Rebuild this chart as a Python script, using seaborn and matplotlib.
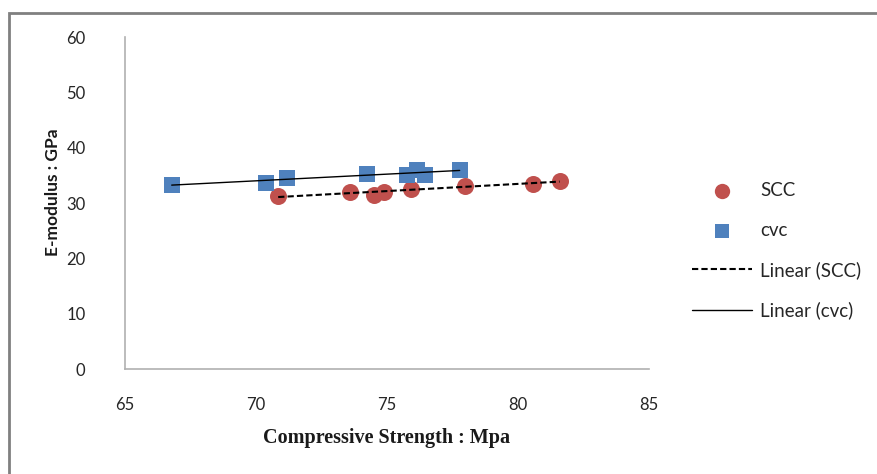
import seaborn as sns
import pandas as pd
import matplotlib.pyplot as plt
from matplotlib.patches import Rectangle

# values
scc_strength = [70.86, 73.59, 74.50, 74.90, 75.91, 78.00, 80.57, 81.59]
scc_modulus = [31.3, 32.0, 31.5, 31.9, 32.5, 33.1, 33.5, 34.0]
cvc_strength = [66.80, 70.38, 71.20, 74.25, 75.77, 76.17, 76.47, 77.78]
cvc_modulus = [33.3, 33.7, 34.6, 35.2, 35.1, 36.0, 35.1, 36.0]

x_ticks = [65, 70, 75, 80, 85]
y_ticks = [0, 10, 20, 30, 40, 50, 60]


def build_frame():
    scc = pd.DataFrame({"strength": scc_strength, "modulus": scc_modulus, "mix": "SCC"})
    cvc = pd.DataFrame({"strength": cvc_strength, "modulus": cvc_modulus, "mix": "cvc"})
    return scc, cvc


def set_default_style():
    sns.set_style("white")
    plt.rcParams["font.family"] = ["Lato", "DejaVu Sans"]


def create_chart(save_loc):
    set_default_style()
    scc, cvc = build_frame()

    fig = plt.figure(figsize=(8.77, 4.74), dpi=100)
    W, H = 877, 474
    # outer grey frame like the spreadsheet chart area (only top and left visible)
    fig.patches.append(Rectangle((9 / W, -0.05), 1.05, 1.05 - 12.5 / H, transform=fig.transFigure,
                                 fill=False, edgecolor="#808080", linewidth=2))

    ax = fig.add_axes([124.5 / W, 1 - 369 / H, (649 - 124.5) / W, (369 - 37) / H])

    sns.scatterplot(data=scc, x="strength", y="modulus", ax=ax, marker="o", s=150,
                    color="#C0504D", edgecolor="#C0504D", linewidth=0, label="SCC", zorder=3)
    sns.scatterplot(data=cvc, x="strength", y="modulus", ax=ax, marker="s", s=120,
                    color="#4F81BD", edgecolor="#4F81BD", linewidth=0, label="cvc", zorder=3)
    sns.regplot(data=scc, x="strength", y="modulus", ax=ax, scatter=False, ci=None,
                line_kws={"color": "black", "linestyle": (0, (3, 1.5)), "linewidth": 1.5, "zorder": 4},
                label="Linear (SCC)")
    sns.regplot(data=cvc, x="strength", y="modulus", ax=ax, scatter=False, ci=None,
                line_kws={"color": "black", "linestyle": "-", "linewidth": 1.0, "zorder": 4},
                label="Linear (cvc)")

    ax.set_xlim(65, 85)
    ax.set_ylim(0, 60)
    ax.set_xticks(x_ticks)
    ax.set_yticks(y_ticks)
    ax.tick_params(axis="y", length=0, pad=28, labelsize=12, labelcolor="#262626")
    ax.tick_params(axis="x", length=0, pad=20, labelsize=12, labelcolor="#262626")
    sns.despine(ax=ax)
    for side in ["left", "bottom"]:
        ax.spines[side].set_color("#B0B0B0")
        ax.spines[side].set_linewidth(1.2)

    ax.set_ylabel("E-modulus : GPa", fontsize=12.5, fontweight="bold", color="#1a1a1a")
    ax.yaxis.set_label_coords(-63 / (649 - 124.5), (369 - 192) / (369 - 37))
    ax.set_xlabel("Compressive Strength : Mpa", fontsize=14.5, fontweight="bold",
                  family="Liberation Serif", color="#1a1a1a")
    ax.xaxis.set_label_coords(0.5, -(428 - 369) / (369 - 37))

    handles, labels = ax.get_legend_handles_labels()
    ax.get_legend().remove()
    fig.legend(handles, labels, loc="upper left", bbox_to_anchor=(692 / W, 1 - 182 / H),
               frameon=False, fontsize=13.5, handlelength=3.2, handletextpad=0.45,
               labelspacing=1.2, borderpad=0, borderaxespad=0, markerscale=0.9)

    fig.savefig(save_loc, dpi=100)


create_chart("out.png")
